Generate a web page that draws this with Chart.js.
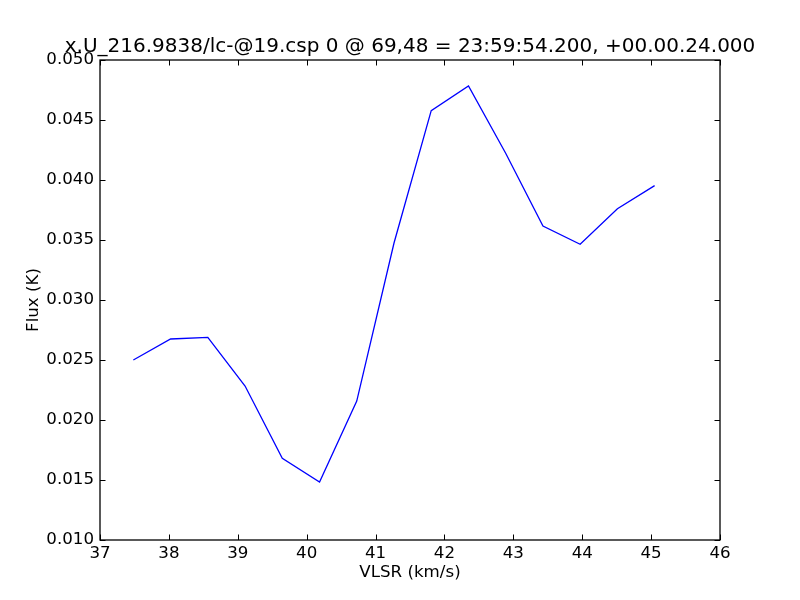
<!DOCTYPE html>
<html>
<head>
<meta charset="utf-8">
<script src="https://cdn.jsdelivr.net/npm/chart.js@4/dist/chart.umd.min.js"></script>
<style>
html,body{margin:0;padding:0;background:#fff;}
#wrap{width:800px;height:600px;}
</style>
</head>
<body>
<div id="wrap"><canvas id="c" width="800" height="600"></canvas></div>
<script>
const titleText = "x.U_216.9838/lc-@19.csp 0 @ 69,48 = 23:59:54.200, +00.00.24.000";
const xLabel = "VLSR (km/s)";
const yLabel = "Flux (K)";
const velocity = [37.484, 38.025, 38.565, 39.106, 39.646, 40.187, 40.727, 41.268, 41.808, 42.349, 42.889, 43.430, 43.970, 44.511, 45.051];
const flux = [0.02500, 0.02675, 0.02689, 0.02283, 0.01681, 0.01483, 0.02158, 0.03475, 0.04578, 0.04783, 0.04223, 0.03617, 0.03464, 0.03761, 0.03953];
const xTicks = [37, 38, 39, 40, 41, 42, 43, 44, 45, 46];
const yTicks = [0.010, 0.015, 0.020, 0.025, 0.030, 0.035, 0.040, 0.045, 0.050];

const FONT = "'DejaVu Sans', sans-serif";

const frameTicks = {
  id: 'frameTicks',
  beforeDraw(chart) {
    const ctx = chart.ctx;
    ctx.save();
    ctx.fillStyle = '#fff';
    ctx.fillRect(0, 0, chart.width, chart.height);
    ctx.restore();
  },
  afterDraw(chart) {
    const {ctx, chartArea: a, scales} = chart;
    const L = 5.5;
    ctx.save();
    ctx.strokeStyle = '#000';
    ctx.lineWidth = 1;
    ctx.beginPath();
    xTicks.forEach(v => {
      const px = Math.round(scales.x.getPixelForValue(v)) + 0.5;
      ctx.moveTo(px, a.bottom); ctx.lineTo(px, a.bottom - L);
      ctx.moveTo(px, a.top); ctx.lineTo(px, a.top + L);
    });
    yTicks.forEach(v => {
      const py = Math.round(scales.y.getPixelForValue(v)) + 0.5;
      ctx.moveTo(a.left, py); ctx.lineTo(a.left + L, py);
      ctx.moveTo(a.right, py); ctx.lineTo(a.right - L, py);
    });
    ctx.stroke();
    ctx.lineWidth = 1.3;
    ctx.strokeRect(a.left, a.top, a.right - a.left, a.bottom - a.top);
    ctx.restore();
  }
};

new Chart(document.getElementById('c'), {
  type: 'scatter',
  data: {
    datasets: [{
      data: velocity.map((v, i) => ({x: v, y: flux[i]})),
      showLine: true,
      borderColor: '#0000ff',
      borderWidth: 1.3,
      pointRadius: 0,
      fill: false,
      tension: 0
    }]
  },
  options: {
    responsive: false,
    animation: false,
    devicePixelRatio: 1,
    layout: {padding: {top: 0, right: 0, bottom: 0, left: 20}},
    plugins: {
      legend: {display: false},
      tooltip: {enabled: false},
      title: {
        display: true,
        text: titleText,
        color: '#000',
        font: {family: FONT, size: 20, weight: 'normal', lineHeight: 1.2},
        padding: {top: 35, bottom: 1}
      }
    },
    scales: {
      x: {
        type: 'linear',
        min: 37, max: 46,
        afterFit(s) { s.height = 60; },
        afterBuildTicks(s) { s.ticks = xTicks.map(v => ({value: v})); },
        grid: {display: false, drawTicks: false},
        border: {display: false},
        ticks: {color: '#000', padding: 4, font: {family: FONT, size: 16.67}, callback: v => String(v), maxRotation: 0, autoSkip: false},
        title: {display: true, text: xLabel, color: '#000', padding: {top: 0, bottom: 17}, font: {family: FONT, size: 16.67, lineHeight: 1.2}}
      },
      y: {
        type: 'linear',
        min: 0.01, max: 0.05,
        afterFit(s) { s.width = 80; },
        afterBuildTicks(s) { s.ticks = yTicks.map(v => ({value: v})); },
        grid: {display: false, drawTicks: false},
        border: {display: false},
        ticks: {color: '#000', padding: 6, font: {family: FONT, size: 16.67}, callback: v => Number(v).toFixed(3), autoSkip: false},
        title: {display: true, text: yLabel, color: '#000', padding: {top: 4, bottom: 0}, font: {family: FONT, size: 16.67, lineHeight: 1.2}}
      },
      yRight: {
        type: 'linear',
        position: 'right',
        min: 0.01, max: 0.05,
        afterFit(s) { s.width = 80; },
        grid: {display: false, drawTicks: false},
        border: {display: false},
        ticks: {display: false}
      }
    }
  },
  plugins: [frameTicks]
});
</script>
</body>
</html>
